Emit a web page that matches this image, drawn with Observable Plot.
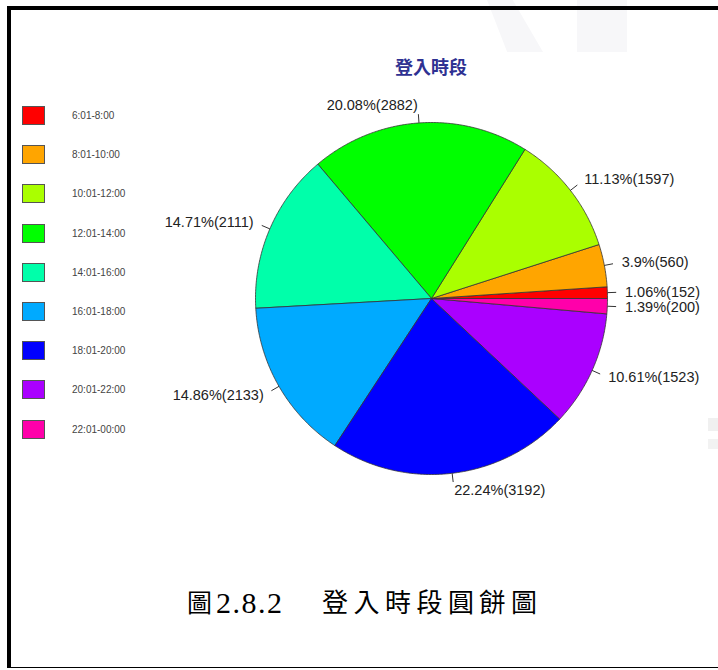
<!DOCTYPE html>
<html>
<head>
<meta charset="utf-8">
<script src="https://cdn.jsdelivr.net/npm/d3@7"></script>
<script src="https://cdn.jsdelivr.net/npm/@observablehq/plot@0.6"></script>
<style>
  html, body { margin: 0; padding: 0; background: #fff; }
  body { width: 718px; height: 670px; overflow: hidden; position: relative; font-family: "Liberation Sans", Arial, sans-serif; }
  .abs { position: absolute; }
  #frame { left: 7px; top: 6px; width: 720px; height: 662px; box-sizing: border-box;
           border-left: 4px solid #000; border-top: 4px solid #000; border-bottom: 1.5px solid #000; }
  #title { left: 331px; width: 200px; top: 54px; text-align: center; font-family: "Noto Sans CJK TC", sans-serif;
           font-weight: 700; font-size: 18px; color: #2e3192; line-height: 24px; }
  .leg-sw { width: 23px; height: 19px; border: 1px solid #555; box-sizing: border-box; }
  .leg-tx { font-size: 10px; color: #444; line-height: 12px; }
  .cap { font-family: "Liberation Serif", "Noto Sans CJK TC", serif; line-height: 30px; color: #000; white-space: pre; }
  #chart { left: 0; top: 0; }
</style>
</head>
<body>
<script>
// ---- data ----
const categories = ["6:01-8:00", "8:01-10:00", "10:01-12:00", "12:01-14:00", "14:01-16:00",
                    "16:01-18:00", "18:01-20:00", "20:01-22:00", "22:01-00:00"];
const counts = [152, 560, 1597, 2882, 2111, 2133, 3192, 1523, 200];
const colors = ["#ff0000", "#ffa500", "#aaff00", "#00ff00", "#00ffaa",
                "#00aaff", "#0000ff", "#aa00ff", "#ff00aa"];
const chartTitle = "登入時段";
const captionLabel = "圖";
const captionNum = "2.8.2";
const captionText = "登入時段圓餅圖";

// ---- background watermark artifacts ----
function addDiv(cls, id, css, text) {
  const d = document.createElement("div");
  d.className = cls; if (id) d.id = id;
  Object.assign(d.style, css || {});
  if (text != null) d.textContent = text;
  document.body.appendChild(d);
  return d;
}
addDiv("abs", null, {left: "487px", top: "0px", width: "56px", height: "52px", background: "#f7f7f9",
  clipPath: "polygon(0 0, 46% 0, 100% 100%, 36% 100%)"});
addDiv("abs", null, {left: "577px", top: "0px", width: "50px", height: "52px", background: "#f7f7f9"});
addDiv("abs", null, {left: "708px", top: "418px", width: "10px", height: "13px", background: "#f0f0f0"});
addDiv("abs", null, {left: "708px", top: "439px", width: "10px", height: "10px", background: "#f2f2f2"});

// ---- pie geometry from data ----
const total = d3.sum(counts);
const slices = [];
const outline = [];
let cum = 0;
counts.forEach((v, i) => {
  const a0 = 2 * Math.PI * cum / total;
  cum += v;
  const a1 = 2 * Math.PI * cum / total;
  const n = Math.max(2, Math.ceil((a1 - a0) / (Math.PI / 360)));
  outline.push({cat: categories[i], x: 0, y: 0});
  for (let k = 0; k <= n; k++) {
    const a = a0 + (a1 - a0) * k / n;
    outline.push({cat: categories[i], x: Math.cos(a), y: Math.sin(a)});
  }
  outline.push({cat: categories[i], x: 0, y: 0});
  const am = (a0 + a1) / 2;
  const pct = Math.round(v / total * 10000) / 100;
  slices.push({cat: categories[i], c: Math.cos(am), s: Math.sin(am), label: `${pct}%(${v})`});
});

const chart = Plot.plot({
  width: 718,
  height: 670,
  margin: 0,
  style: {background: "transparent", overflow: "visible"},
  x: {domain: [-1, 1], range: [255, 607], axis: null},
  y: {domain: [-1, 1], range: [474, 122], axis: null},
  color: {domain: categories, range: colors},
  marks: [
    Plot.line(outline, {x: "x", y: "y", z: "cat", fill: "cat", stroke: "#333", strokeWidth: 0.8, strokeLinejoin: "round"}),
    Plot.link(slices, {x1: d => d.c, y1: d => d.s, x2: d => 1.05 * d.c, y2: d => 1.05 * d.s, stroke: "#333", strokeWidth: 1}),
    Plot.text(slices.filter(d => d.c >= 0), {x: d => 1.1 * d.c, y: d => 1.1 * d.s, text: "label", textAnchor: "start",
      fontSize: 14.5, fill: "#222", fontFamily: "Liberation Sans, Arial, sans-serif"}),
    Plot.text(slices.filter(d => d.c < 0), {x: d => 1.1 * d.c, y: d => 1.1 * d.s, text: "label", textAnchor: "end",
      fontSize: 14.5, fill: "#222", fontFamily: "Liberation Sans, Arial, sans-serif"})
  ]
});
chart.classList.add("abs");
chart.id = "chart";
document.body.appendChild(chart);

// ---- frame, title, legend, caption ----
addDiv("abs", "frame");
addDiv("abs", "title", {}, chartTitle);

const legendTop = 106, legendStep = 39.2;
categories.forEach((c, i) => {
  const y = legendTop + i * legendStep;
  addDiv("abs leg-sw", null, {left: "22px", top: `${y}px`, background: colors[i]});
  addDiv("abs leg-tx", null, {left: "72px", top: `${y + 4}px`}, c);
});

addDiv("abs cap", null, {left: "187px", top: "589px", fontSize: "25px"}, captionLabel);
addDiv("abs cap", null, {left: "216px", top: "588px", fontSize: "30px", letterSpacing: "1.5px"}, captionNum);
addDiv("abs cap", null, {left: "322px", top: "589px", fontSize: "26px", letterSpacing: "5.5px"}, captionText);
</script>
</body>
</html>
